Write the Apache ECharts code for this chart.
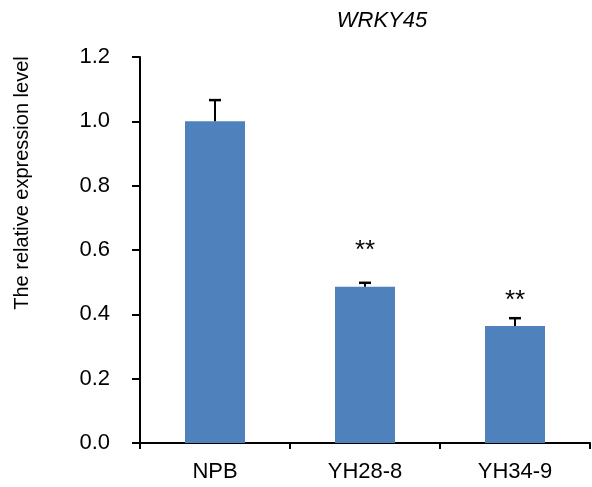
<!DOCTYPE html>
<html>
<head>
<meta charset="utf-8">
<script src="https://cdn.jsdelivr.net/npm/echarts@6/dist/echarts.min.js"></script>
<style>
html,body{margin:0;padding:0;background:#fff;}
#chart{width:592px;height:487px;}
</style>
</head>
<body>
<div id="chart"></div>
<script>
// ---- data ----
var categories = ['NPB', 'YH28-8', 'YH34-9'];
var values = [1.0, 0.486, 0.364];
var errors = [0.066, 0.012, 0.024];
var sigMarks = ['', '**', '**'];
var sigLevels = [null, 0.615, 0.46];
var yTicks = [0, 0.2, 0.4, 0.6, 0.8, 1.0, 1.2];
var yTitle = 'The relative expression level';
var chartTitle = 'WRKY45';

var FONT = '"Liberation Sans", Arial, Helvetica, sans-serif';
var chart = echarts.init(document.getElementById('chart'), null, {renderer: 'canvas'});

var errData = values.map(function (v, i) { return [i, v, v + errors[i]]; });
var sigData = [];
sigMarks.forEach(function (m, i) { if (m) sigData.push({value: [i, sigLevels[i]], label: m}); });

chart.setOption({
  animation: false,
  backgroundColor: '#fff',
  graphic: [{
    type: 'text',
    x: 22, y: 183,
    rotation: Math.PI / 2,
    style: {
      text: yTitle,
      font: '20px ' + FONT,
      fill: '#000',
      textAlign: 'center',
      textVerticalAlign: 'middle'
    }
  }, {
    type: 'text',
    x: 382, y: 21,
    style: {
      text: chartTitle,
      font: 'italic 22px ' + FONT,
      fill: '#000',
      textAlign: 'center',
      textVerticalAlign: 'middle'
    }
  }],
  grid: {left: 140, right: 2, top: 57, bottom: 44, containLabel: false},
  xAxis: {
    type: 'category',
    data: categories,
    boundaryGap: true,
    axisLine: {lineStyle: {color: '#000', width: 2}},
    axisTick: {show: true, alignWithLabel: false, length: 6, lineStyle: {color: '#000', width: 2}},
    axisLabel: {fontFamily: FONT, fontSize: 22, color: '#000', margin: 18}
  },
  yAxis: {
    type: 'value',
    min: 0, max: 1.2, interval: 0.2,
    axisLine: {show: true, lineStyle: {color: '#000', width: 2}},
    axisTick: {show: true, length: 8, lineStyle: {color: '#000', width: 2}},
    axisLabel: {
      fontFamily: FONT, fontSize: 22, color: '#000', margin: 30,
      formatter: function (v) { return v.toFixed(1); }
    },
    splitLine: {show: false}
  },
  series: [
    {
      type: 'bar',
      data: values,
      barWidth: '40%',
      itemStyle: {color: '#4F81BD'},
      z: 2
    },
    {
      type: 'custom',
      data: errData,
      z: 3,
      renderItem: function (params, api) {
        var base = api.coord([api.value(0), api.value(1)]);
        var top = api.coord([api.value(0), api.value(2)]);
        var hw = 6;
        return {
          type: 'group',
          children: [
            {type: 'line', shape: {x1: base[0], y1: base[1], x2: top[0], y2: top[1]}, style: {stroke: '#000', lineWidth: 2}},
            {type: 'line', shape: {x1: top[0] - hw, y1: top[1], x2: top[0] + hw, y2: top[1]}, style: {stroke: '#000', lineWidth: 2.5}}
          ]
        };
      }
    },
    {
      type: 'custom',
      data: sigData.map(function (d) { return d.value; }),
      z: 4,
      renderItem: function (params, api) {
        var p = api.coord([api.value(0), api.value(1)]);
        return {
          type: 'text',
          style: {
            x: p[0], y: p[1] + 6, text: sigData[params.dataIndex].label,
            textAlign: 'center', textVerticalAlign: 'middle',
            font: '26px ' + FONT, fill: '#000'
          }
        };
      }
    }
  ]
});
</script>
</body>
</html>
